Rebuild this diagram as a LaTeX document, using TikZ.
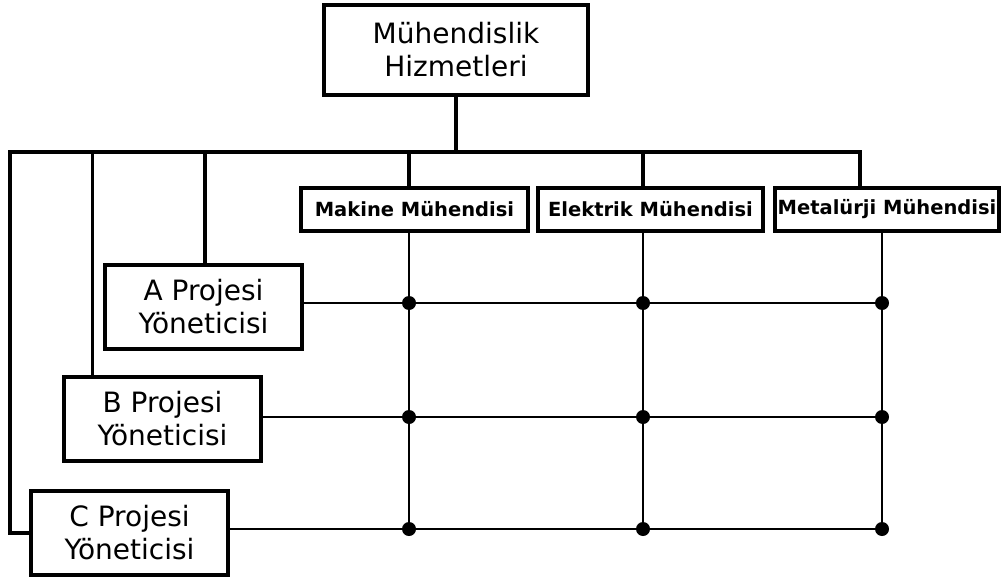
\documentclass[tikz,border=0pt]{standalone}
\usepackage{fontspec}
\setmainfont{DejaVu Sans}
\usepackage{tikz}
\usetikzlibrary{calc}

\begin{document}
\begin{tikzpicture}[x=1pt, y=-1pt,
    box/.style={draw, line width=3.2pt, inner sep=0pt, align=center},
    bigbox/.style={box, minimum width=197pt, minimum height=84pt, font=\fontsize{28}{33}\selectfont},
    engbox/.style={box, minimum width=225pt, minimum height=43pt, font=\bfseries\fontsize{19.5}{22}\selectfont},
    bus/.style={line width=3.2pt},
    gridline/.style={line width=2pt},
    dot/.style={circle, fill, inner sep=0pt, minimum size=14pt}]
    \useasboundingbox (0,0) rectangle (1001,578);

    % Top box
    \node[bigbox, minimum width=264pt, minimum height=90pt] (hizmet) at (456,50) {Mühendislik\\Hizmetleri};

    % Engineers
    \node[engbox, minimum width=227pt] (mak) at (414.5,209.5) {Makine Mühendisi};
    \node[engbox] (ele) at (650.5,209.5) {Elektrik Mühendisi};
    \node[engbox, minimum width=224pt] (met) at (887,209.5) {Metalürji Mühendisi};

    % Project managers
    \node[bigbox] (apm) at (203.5,307) {A Projesi\\Yöneticisi};
    \node[bigbox] (bpm) at (162.5,419) {B Projesi\\Yöneticisi};
    \node[bigbox] (cpm) at (129.5,533) {C Projesi\\Yöneticisi};

    % Dots of the matrix
    \foreach \r/\y in {A/303, B/417, C/529} {
        \foreach \c/\x in {1/409, 2/643, 3/882}
            \node[dot] (d\r\c) at (\x,\y) {};
    }

    % Bus
    \coordinate (busL) at (10,152);
    \coordinate (busR) at (860,152);
    \draw[bus] (hizmet.south) -- (hizmet.south |- busL);
    \draw[bus] (busR |- met.north) -- (busR) -- (busL) |- (cpm.west);
    \draw[bus] ([xshift=30pt]bpm.north west) -- ([xshift=30pt]bpm.north west |- busL);
    \draw[bus] ([xshift=1.5pt]apm.north) -- ([xshift=1.5pt]apm.north |- busL);
    \draw[bus] (dA1 |- mak.north) -- (dA1 |- busL);
    \draw[bus] (dA2 |- ele.north) -- (dA2 |- busL);

    % Matrix lines
    \draw[gridline] (dA1 |- mak.south) -- (dC1);
    \draw[gridline] (dA2 |- ele.south) -- (dC2);
    \draw[gridline] (dA3 |- met.south) -- (dC3);
    \draw[gridline] (apm.east |- dA1) -- (dA3);
    \draw[gridline] (bpm.east |- dB1) -- (dB3);
    \draw[gridline] (cpm.east |- dC1) -- (dC3);
\end{tikzpicture}
\end{document}
